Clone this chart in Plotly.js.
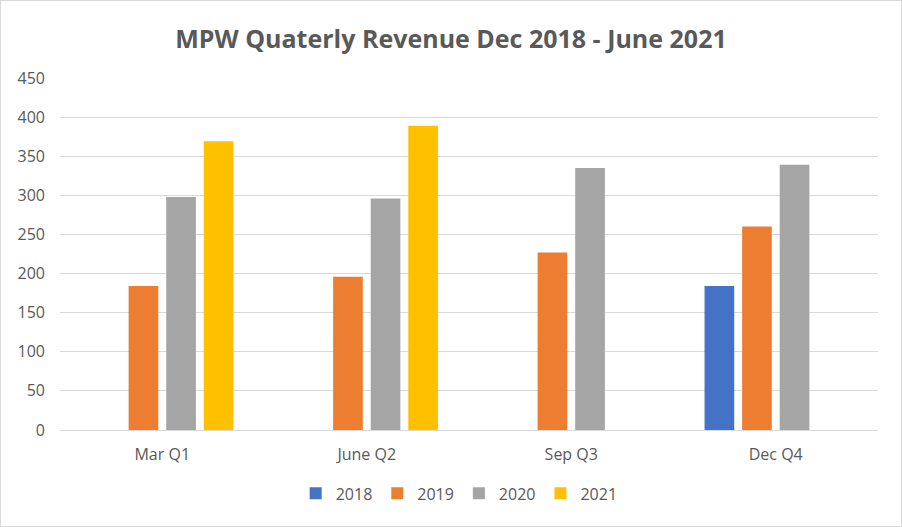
<!DOCTYPE html>
<html>
<head>
<meta charset="utf-8">
<script src="https://cdn.plot.ly/plotly-3.0.1.min.js"></script>
<style>
html,body{margin:0;padding:0;background:#fff;}
#chart{width:902px;height:527px;box-sizing:border-box;border:1px solid #d9d9d9;}
</style>
</head>
<body>
<div id="chart"></div>
<script>
const categories = ["Mar Q1", "June Q2", "Sep Q3", "Dec Q4"];
const seriesNames = ["2018", "2019", "2020", "2021"];
const v2018 = [null, null, null, 184];
const v2019 = [184, 196, 227, 260];
const v2020 = [298, 296, 335, 339];
const v2021 = [369, 389, null, null];
const colors = ["#4472C4", "#ED7D31", "#A5A5A5", "#FFC000"];
const allValues = [v2018, v2019, v2020, v2021];

const traces = allValues.map((vals, i) => ({
  type: "bar",
  name: seriesNames[i],
  x: categories,
  y: vals,
  marker: {color: colors[i]},
  hoverinfo: "y"
}));

const FONT = "Open Sans, Liberation Sans, Arial, sans-serif";
const layout = {
  width: 900, height: 525,
  paper_bgcolor: "#fff", plot_bgcolor: "#fff",
  margin: {l: 59, r: 23, t: 77, b: 96},
  title: {
    text: "<b>MPW Quaterly Revenue Dec 2018 - June 2021</b>",
    font: {family: FONT, size: 25, color: "#595959"},
    x: 0.5, xanchor: "center", y: 0.928, yanchor: "middle"
  },
  font: {family: FONT, size: 16, color: "#595959"},
  barmode: "group",
  bargap: 0.265,
  bargroupgap: 0.21,
  xaxis: {
    type: "category",
    showgrid: false, zeroline: false, showline: false,
    ticks: "", ticklabelstandoff: 13,
    tickfont: {family: FONT, size: 16, color: "#595959"}
  },
  yaxis: {
    range: [0, 450], dtick: 50, tick0: 0,
    showgrid: true, gridcolor: "#d9d9d9", gridwidth: 1,
    zeroline: true, zerolinecolor: "#d9d9d9", zerolinewidth: 1,
    showline: false, ticks: "", ticklabelstandoff: 14,
    tickfont: {family: FONT, size: 16, color: "#595959"}
  },
  legend: {
    orientation: "h", x: 0.488, xanchor: "center", y: -0.18, yanchor: "middle",
    font: {family: FONT, size: 16, color: "#595959"},
    itemwidth: 30, traceorder: "normal"
  },
  showlegend: true
};

Plotly.newPlot("chart", traces, layout, {displayModeBar: false, staticPlot: true});
</script>
</body>
</html>
